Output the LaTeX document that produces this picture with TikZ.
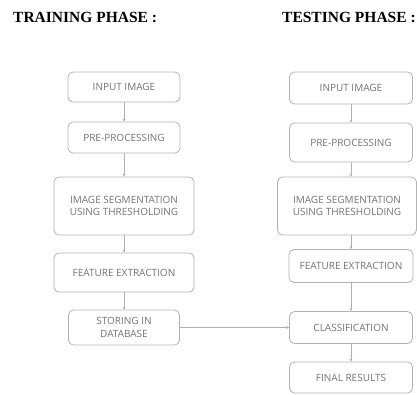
\documentclass[tikz,border=0pt]{standalone}
\usepackage{fontspec}
\setmainfont{Liberation Serif}
\newfontfamily\boxfont{Open Sans}
\usetikzlibrary{arrows.meta}
\definecolor{linkgray}{RGB}{165,180,195}
\tikzset{
  stage/.style={draw=gray!60, rounded corners=5pt, line width=0.8pt, align=center,
    font=\boxfont\fontsize{10}{12.5}\selectfont, text=gray!90!black, inner sep=2pt},
  flow/.style={draw=linkgray, line width=0.6pt, -{Stealth[length=3pt,width=3pt]}},
  heading/.style={font=\bfseries\fontsize{15.5}{18}\selectfont, anchor=base west, inner sep=0pt}
}
\begin{document}
\begin{tikzpicture}[x=1pt,y=-1pt]
\useasboundingbox (0,0) rectangle (417,394);
\node[heading] (trainhead) at (13,22) {TRAINING PHASE :};
\node[heading] (testhead) at (282,22) {TESTING PHASE :};

\node[stage, minimum width=112pt, minimum height=30pt] (tinput) at (124,87) {INPUT IMAGE};
\node[stage, minimum width=112pt, minimum height=31pt] (tpre) at (124,137.5) {PRE-PROCESSING};
\node[stage, minimum width=140pt, minimum height=58pt] (tseg) at (124,206) {IMAGE SEGMENTATION\\USING THRESHOLDING};
\node[stage, minimum width=140pt, minimum height=39pt] (tfeat) at (124,272.5) {FEATURE EXTRACTION};
\node[stage, minimum width=111pt, minimum height=35pt] (tstore) at (124,327.5) {STORING IN\\DATABASE};

\node[stage, minimum width=123pt, minimum height=32pt] (sinput) at (351,88) {INPUT IMAGE};
\node[stage, minimum width=123pt, minimum height=39pt] (spre) at (351,142.5) {PRE-PROCESSING};
\node[stage, minimum width=139pt, minimum height=58pt] (sseg) at (347,206) {IMAGE SEGMENTATION\\USING THRESHOLDING};
\node[stage, minimum width=124pt, minimum height=33pt] (sfeat) at (351,266) {FEATURE EXTRACTION};
\node[stage, minimum width=123pt, minimum height=32pt] (sclass) at (351,327.5) {CLASSIFICATION};
\node[stage, minimum width=123pt, minimum height=31pt] (sfinal) at (351,377.5) {FINAL RESULTS};

\draw[flow] (tinput) -- (tpre);
\draw[flow] (tpre) -- (tseg);
\draw[flow] (tseg) -- (tfeat);
\draw[flow] (tfeat) -- (tstore);
\draw[flow] (sinput) -- (spre);
\draw[flow] (spre) -- (sseg.north -| spre.south);
\draw[flow] (sseg.south -| sfeat.north) -- (sfeat);
\draw[flow] (sfeat) -- (sclass);
\draw[flow] (sclass) -- (sfinal);
\draw[flow] (tstore) -- (sclass);
\end{tikzpicture}
\end{document}
